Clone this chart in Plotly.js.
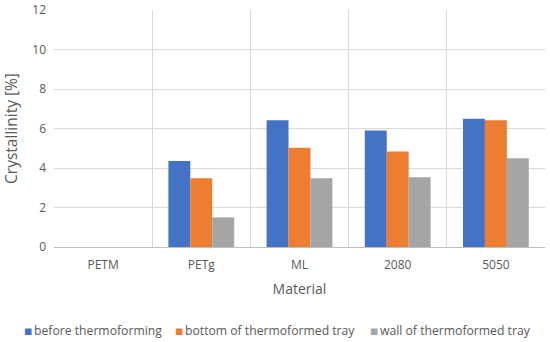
<!DOCTYPE html>
<html>
<head>
<meta charset="utf-8">
<script src="https://cdn.plot.ly/plotly-3.0.1.min.js"></script>
<style>html,body{margin:0;padding:0;background:#fff;}#chart{width:550px;height:342px;}</style>
</head>
<body>
<div id="chart"></div>
<script>
const categories = ["PETM", "PETg", "ML", "2080", "5050"];
const seriesNames = ["before thermoforming", "bottom of thermoformed tray", "wall of thermoformed tray"];
const beforeThermoforming = [0, 4.35, 6.42, 5.9, 6.5];
const bottomOfTray = [0, 3.48, 5.02, 4.84, 6.42];
const wallOfTray = [0, 1.5, 3.48, 3.53, 4.5];
const colors = ["#4472C4", "#ED7D31", "#A5A5A5"];
const yTicks = [0, 2, 4, 6, 8, 10, 12];

const fam = "Open Sans, Noto Sans, sans-serif";
const txt = "#595959";

const allValues = [beforeThermoforming, bottomOfTray, wallOfTray];
const traces = allValues.map((vals, i) => ({
  type: "bar",
  name: seriesNames[i],
  x: categories,
  y: vals,
  marker: {color: colors[i]},
  showlegend: false
}));

// manual legend (one row, like the reference)
const legendSquareX = [-0.0652, 0.2424, 0.6395];
const legendY = -0.354;
const annotations = [];
seriesNames.forEach((name, i) => {
  annotations.push({
    xref: "paper", yref: "paper", x: legendSquareX[i], y: legendY,
    xanchor: "left", yanchor: "middle", showarrow: false,
    text: "■", font: {size: 8.5, color: colors[i], family: "DejaVu Sans"}
  });
  annotations.push({
    xref: "paper", yref: "paper", x: legendSquareX[i] + 0.0205, y: legendY,
    xanchor: "left", yanchor: "middle", showarrow: false,
    text: name, font: {size: 12.2, color: txt, family: fam}
  });
});

const layout = {
  width: 550, height: 342,
  margin: {l: 54, r: 5, t: 10, b: 95},
  paper_bgcolor: "#fff", plot_bgcolor: "#fff",
  barmode: "group", bargap: 0.33, bargroupgap: 0,
  font: {family: fam, color: txt},
  showlegend: false,
  xaxis: {
    type: "category",
    tickson: "boundaries",
    showgrid: true, gridcolor: "#D9D9D9", gridwidth: 1,
    showline: true, linecolor: "#BFBFBF", linewidth: 1,
    ticks: "",
    ticklabelstandoff: 7,
    tickfont: {size: 12, color: txt, family: fam},
    title: {text: "Material", font: {size: 14, color: txt, family: fam}, standoff: 11},
    fixedrange: true
  },
  yaxis: {
    range: [0, 12],
    tickvals: yTicks,
    showgrid: true, gridcolor: "#D9D9D9", gridwidth: 1,
    zeroline: false, showline: false,
    ticks: "",
    ticklabelstandoff: 7,
    tickfont: {size: 12, color: txt, family: fam},
    title: {text: "Crystallinity [%]", font: {size: 15.5, color: txt, family: fam}, standoff: 10},
    fixedrange: true
  },
  annotations: annotations
};

Plotly.newPlot("chart", traces, layout, {displayModeBar: false, staticPlot: true});
</script>
</body>
</html>
